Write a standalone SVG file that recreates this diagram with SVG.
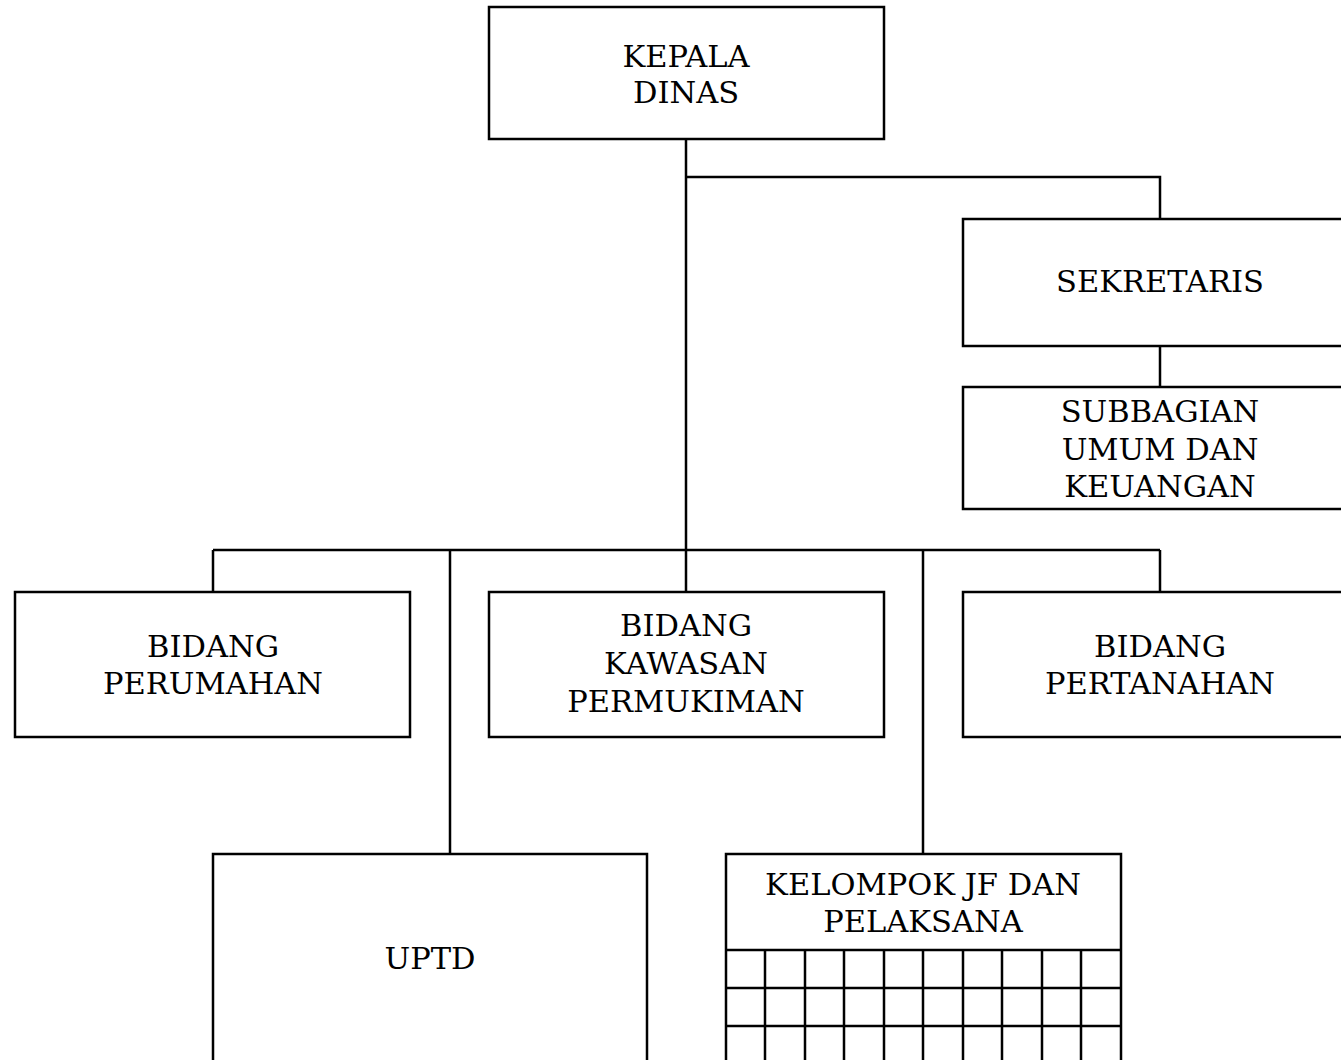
<svg xmlns="http://www.w3.org/2000/svg" width="1341" height="1060" viewBox="0 0 1341 1060">
<style>
.box{fill:#fff;stroke:#000;stroke-width:2.5}
.ln{fill:none;stroke:#000;stroke-width:2.5}
text{font-family:"DejaVu Serif","Liberation Serif",serif;font-size:30.5px;fill:#000;text-anchor:middle}
</style>
<rect width="1341" height="1060" fill="#fff"/>
<g id="connectors">
<path class="ln" d="M686 139V550M686 177H1160V219M1160 346V387M213 550H1160M213 550V592M450 550V854M686 550V592M923 550V854M1160 550V592"/>
</g>
<g id="kepala-dinas">
<rect class="box" x="489" y="7" width="395" height="132"/>
<text x="686" y="67">KEPALA</text>
<text x="686" y="103">DINAS</text>
</g>
<g id="sekretaris">
<rect class="box" x="963" y="219" width="400" height="127"/>
<text x="1160" y="292">SEKRETARIS</text>
</g>
<g id="subbagian">
<rect class="box" x="963" y="387" width="400" height="122"/>
<text x="1160" y="422">SUBBAGIAN</text>
<text x="1160" y="460">UMUM DAN</text>
<text x="1160" y="497">KEUANGAN</text>
</g>
<g id="bidang-perumahan">
<rect class="box" x="15" y="592" width="395" height="145"/>
<text x="213" y="657">BIDANG</text>
<text x="213" y="694">PERUMAHAN</text>
</g>
<g id="bidang-kawasan">
<rect class="box" x="489" y="592" width="395" height="145"/>
<text x="686" y="636">BIDANG</text>
<text x="686" y="674">KAWASAN</text>
<text x="686" y="712">PERMUKIMAN</text>
</g>
<g id="bidang-pertanahan">
<rect class="box" x="963" y="592" width="400" height="145"/>
<text x="1160" y="657">BIDANG</text>
<text x="1160" y="694">PERTANAHAN</text>
</g>
<g id="uptd">
<rect class="box" x="213" y="854" width="434" height="230"/>
<text x="430" y="969">UPTD</text>
</g>
<g id="kelompok-jf">
<rect class="box" x="726" y="854" width="395" height="230"/>
<text x="923" y="895">KELOMPOK JF DAN</text>
<text x="923" y="932">PELAKSANA</text>
<path class="ln" d="M726 950H1121M726 988H1121M726 1026H1121M765 950V1084M805 950V1084M844 950V1084M884 950V1084M923 950V1084M963 950V1084M1002 950V1084M1042 950V1084M1081 950V1084"/>
</g>
</svg>
